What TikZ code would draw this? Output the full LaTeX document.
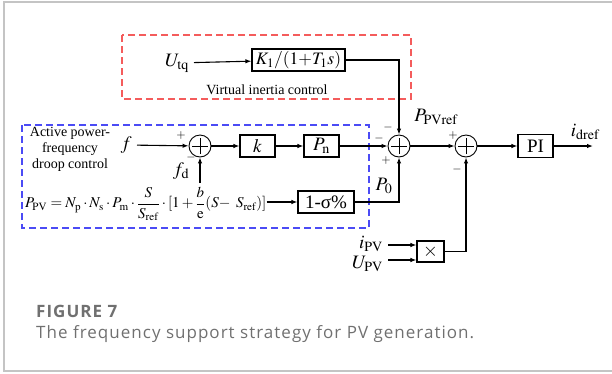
\documentclass[tikz,border=0pt]{standalone}
\usepackage{mathptmx}
\usepackage{fontspec}
\setmainfont{Liberation Serif}
\newfontfamily\capfont[LetterSpace=6]{Open Sans}
\usepackage{tikz}
\usetikzlibrary{
	arrows.meta,
	positioning,
	calc
}
\definecolor{frameg}{HTML}{C4C4C4}
\definecolor{capg}{HTML}{707070}
\definecolor{vired}{HTML}{F45C5C}
\definecolor{apblue}{HTML}{4B4BF5}

\begin{document}
\begin{tikzpicture}[x=1pt,y=-1pt,>={Latex[length=6pt,width=4.5pt]},
	blk/.style={draw,line width=1.1pt,minimum height=22pt,inner sep=0pt,font=\fontsize{19}{19}\selectfont},
	sumc/.style={draw,circle,line width=0.9pt,minimum size=22pt,inner sep=0pt,
		path picture={
			\draw[line width=0.9pt] ([xshift=-8pt]path picture bounding box.center)--([xshift=8pt]path picture bounding box.center);
			\draw[line width=0.9pt] ([yshift=-8pt]path picture bounding box.center)--([yshift=8pt]path picture bounding box.center);}},
	lbl/.style={inner sep=0pt,font=\fontsize{19}{19}\selectfont},
	sgn/.style={inner sep=0pt,font=\fontsize{12}{12}\selectfont},
	wire/.style={line width=1.1pt},
	grp/.style={line width=1.2pt,dash pattern=on 7pt off 4pt}]
		\useasboundingbox (0,0) rectangle (612,373);
		
		% Frame
		\draw[frameg,line width=1.2pt] (612,2)--(4,2)--(4,371)--(612,371);
		
		% Virtual inertia control
		\draw[grp,vired] (122,35) rectangle (411,99);
		\node[lbl,anchor=east] (utq) at (189,63){$U_{\mathrm{tq}}$};
		\node[blk,minimum width=93pt,font=\fontsize{17.5}{18}\selectfont] (kt) at (298.5,60){$K_1/(1{+}T_1s)$};
		\node[font=\fontsize{14}{16}\selectfont] (vic) at (267,90){Virtual inertia control};
		
		% Droop control
		\draw[grp,apblue] (22,125) rectangle (369,228);
		\node[align=center,font=\fontsize{14}{16}\selectfont] (apf) at (70,149)
		{Active power-\\frequency\\droop control};
		\node[lbl,anchor=east] (f) at (132,145){$f$};
		\node[sumc] (s0) at (200,146){};
		\node[blk,minimum width=35pt] (k) at (257.5,146){$k$};
		\node[blk,minimum width=35pt] (pn) at (321.5,146){$P_{\mathrm{n}}$};
		\node[lbl] (fd) at (181,171){$f_{\mathrm{d}}$};
		\coordinate (fdin) at (200,183);
		\node[sgn] at (181,135){$+$};
		\node[sgn] at (191,157){$-$};
		
		\node[lbl,anchor=west,font=\fontsize{15}{16}\selectfont] (ppv) at (25,204)
		{$\displaystyle P_{\mathrm{PV}}=N_{\mathrm{p}}\cdot N_{\mathrm{s}}\cdot P_{\mathrm{m}}\cdot\frac{S}{S_{\mathrm{ref}}}\cdot[1+\frac{b}{\mathrm{e}}(S\kern-2pt-\;S_{\mathrm{ref}})]$};
		\node[blk,minimum width=56pt] (sg) at (326,202){1-σ\%};
		\node[lbl] (p0) at (384,186){$P_0$};
		
		% Summing and PI
		\node[sumc] (s1) at (399,146){};
		\node[sumc] (s2) at (466,146){};
		\node[sgn] at (379,138){$-$};
		\node[sgn] at (388,127){$-$};
		\node[sgn] at (386,160){$+$};
		\node[sgn] at (453,135){$+$};
		\node[sgn] at (457,169){$-$};
		\node[lbl] (ppvref) at (436,117){$P_{\mathrm{PVref}}$};
		\node[blk,minimum width=35pt,minimum height=23pt] (pi) at (535.5,146){PI};
		\coordinate (out) at (593,146);
		\node[lbl] (idref) at (585,132){$i_{\mathrm{dref}}$};
		
		% Multiplier
		\node[blk,minimum width=27pt,minimum height=21pt] (mul) at (430.5,251.5){$\times$};
		\node[lbl,anchor=east] (ipv) at (383,244){$i_{\mathrm{PV}}$};
		\node[lbl,anchor=east] (upv) at (383,264){$U_{\mathrm{PV}}$};
		\coordinate (ia) at (388,245);
		\coordinate (ua) at (388,260);
		
		\draw[wire,->,shorten <=5pt] (utq) -- (kt);
		\draw[wire,->] (kt) -| (s1);
		\draw[wire,->,shorten <=5pt] (f) -- (s0);
		\draw[wire,->] (fdin) -- (s0);
		\draw[wire,->] (s0) -- (k);
		\draw[wire,->] (k) -- (pn);
		\draw[wire,->] (pn) -- (s1);
		\draw[wire,->] (sg.west -| ppv.east) -- (sg);
		\draw[wire,->] (sg) -| (s1);
		\draw[wire,->] (s1) -- (s2);
		\draw[wire,->] (s2) -- (pi);
		\draw[wire,->] (pi) -- (out);
		\draw[wire,->] (mul) -| (s2);
		\draw[wire,->] (ia) -- (ia -| mul.west);
		\draw[wire,->] (ua) -- (ua -| mul.west);
		
		% Caption
		\node[anchor=base west,inner sep=0pt,text=capg,font=\capfont\bfseries\fontsize{17}{18}\selectfont] (fig) at (36,317){FIGURE 7};
		\node[anchor=base west,inner sep=0pt,text=capg,font=\capfont\fontsize{17}{18}\selectfont] (cap) at (36,338){The frequency support strategy for PV generation.};
		
	\end{tikzpicture}
\end{document}
